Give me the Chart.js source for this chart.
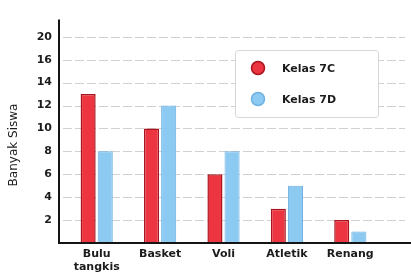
<!DOCTYPE html>
<html>
<head>
<meta charset="utf-8">
<script src="https://cdn.jsdelivr.net/npm/chart.js@4/dist/chart.umd.min.js"></script>
<style>
  html, body { margin: 0; padding: 0; background: #ffffff; }
  #wrap { width: 411px; height: 277px; }
</style>
</head>
<body>
<div id="wrap"><canvas id="siswa-chart"></canvas></div>
<script>
// data
const categories = [["Bulu", "tangkis"], "Basket", "Voli", "Atletik", "Renang"];
const kelas7C = [13, 10, 6, 3, 2];
const kelas7D = [8, 12, 8, 5, 1];
const seriesLabels = ["Kelas 7C", "Kelas 7D"];
// the original axis skips 18 and prints "20" in its place
const tickValues = [2, 4, 6, 8, 10, 12, 14, 16, 18];
const tickLabels = ["2", "4", "6", "8", "10", "12", "14", "16", "20"];
const yTitle = "Banyak Siswa";

const RED = "#ec3540";
const RED_EDGE = "#a9141f";
const BLUE = "#8ccaf2";
const BLUE_EDGE = "#6fb1e2";
const INK = "#1c1c1c";
const FONT = "'DejaVu Sans', sans-serif";

function renderChart() {
  const ctx = document.getElementById("siswa-chart");

  // grid, axis lines, title and the boxed legend
  const decor = {
    id: "decor",
    beforeDatasetsDraw: (chart) => {
      const { ctx, chartArea, scales } = chart;
      ctx.save();
      ctx.strokeStyle = "rgba(0,0,0,0.18)";
      ctx.lineWidth = 1;
      ctx.setLineDash([9, 3]);
      tickValues.forEach((v) => {
        const y = Math.round(scales.y.getPixelForValue(v)) + 0.5;
        ctx.beginPath();
        ctx.moveTo(chartArea.left - 2, y);
        ctx.lineTo(chart.width - 6, y);
        ctx.stroke();
      });
      ctx.restore();
    },
    afterDatasetsDraw: (chart) => {
      const { ctx, chartArea, scales } = chart;
      const x0 = chartArea.left - 6;
      const yBase = scales.y.getPixelForValue(0);
      ctx.save();
      ctx.strokeStyle = "#151515";
      ctx.lineWidth = 2;
      ctx.beginPath();
      ctx.moveTo(x0, chartArea.top);
      ctx.lineTo(x0, yBase);
      ctx.lineTo(chart.width, yBase);
      ctx.stroke();

      // y title
      ctx.fillStyle = INK;
      ctx.font = "12px " + FONT;
      ctx.textAlign = "center";
      ctx.textBaseline = "middle";
      ctx.translate(14, 145);
      ctx.rotate(-Math.PI / 2);
      ctx.fillText(yTitle, 0, 0);
      ctx.restore();

      // legend box
      ctx.save();
      const bx = 235, by = 50, bw = 143, bh = 67;
      ctx.fillStyle = "#ffffff";
      ctx.strokeStyle = "#d6d6d6";
      ctx.lineWidth = 1;
      ctx.beginPath();
      ctx.roundRect(bx + 0.5, by + 0.5, bw, bh, 3);
      ctx.fill();
      ctx.stroke();
      chart.data.datasets.forEach((ds, i) => {
        const cy = by + 18 + i * 31;
        ctx.beginPath();
        ctx.arc(bx + 23, cy, 6.5, 0, Math.PI * 2);
        ctx.fillStyle = ds.backgroundColor;
        ctx.fill();
        ctx.strokeStyle = ds.borderColor;
        ctx.lineWidth = 1.5;
        ctx.stroke();
        ctx.fillStyle = INK;
        ctx.font = "bold 11px " + FONT;
        ctx.textAlign = "left";
        ctx.textBaseline = "middle";
        ctx.fillText(ds.label, bx + 47, cy + 1);
      });
      ctx.restore();
    },
  };

  new Chart(ctx, {
    type: "bar",
    data: {
      labels: categories,
      datasets: [
        {
          label: seriesLabels[0],
          data: kelas7C,
          backgroundColor: RED,
          borderColor: RED_EDGE,
          borderWidth: 1.5,
        },
        {
          label: seriesLabels[1],
          data: kelas7D,
          backgroundColor: BLUE,
          borderColor: BLUE_EDGE,
          borderWidth: 1,
        },
      ],
    },
    options: {
      responsive: true,
      maintainAspectRatio: false,
      animation: false,
      layout: {
        padding: { top: 15, right: 29, bottom: 0, left: 0 },
      },
      datasets: {
        bar: {
          categoryPercentage: 0.54,
          barPercentage: 0.88,
        },
      },
      plugins: {
        legend: { display: false },
        tooltip: { enabled: false },
      },
      scales: {
        x: {
          grid: { display: false, drawTicks: false },
          border: { display: false },
          afterFit: (scale) => {
            scale.height = 34;
          },
          ticks: {
            color: INK,
            padding: 4,
            font: { family: FONT, size: 11, weight: "bold", lineHeight: 1.25 },
            maxRotation: 0,
            autoSkip: false,
          },
        },
        y: {
          min: 0,
          max: 19.5,
          grid: { display: false, drawTicks: false },
          border: { display: false },
          afterBuildTicks: (scale) => {
            scale.ticks = tickValues.map((v) => ({ value: v }));
          },
          afterFit: (scale) => {
            scale.width = 65;
          },
          ticks: {
            color: INK,
            padding: 13,
            font: { family: FONT, size: 11, weight: "bold" },
            callback: (value) => tickLabels[tickValues.indexOf(value)],
          },
        },
      },
    },
    plugins: [decor],
  });
}

renderChart();
</script>
</body>
</html>
